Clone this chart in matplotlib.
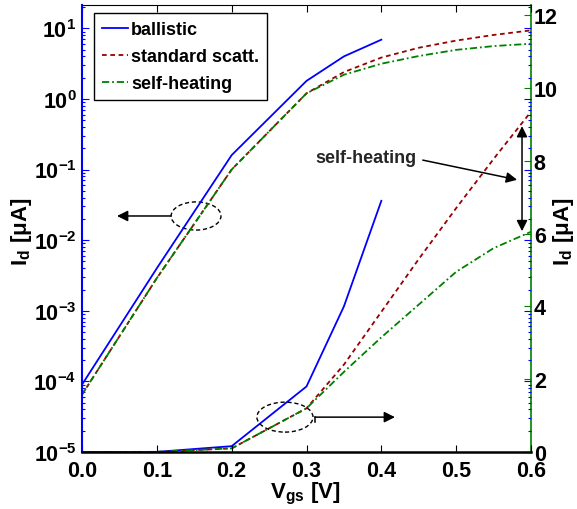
import math

import matplotlib
matplotlib.use("Agg")
import matplotlib.pyplot as plt
from matplotlib.patches import Ellipse
from matplotlib.ticker import FixedLocator, FuncFormatter, LogLocator, NullFormatter

plt.rcParams["font.family"] = ["Liberation Sans", "DejaVu Sans"]
plt.rcParams["font.weight"] = "bold"
plt.rcParams["mathtext.fontset"] = "custom"
plt.rcParams["mathtext.rm"] = "Liberation Sans"
plt.rcParams["mathtext.bf"] = "Liberation Sans:bold"
plt.rcParams["mathtext.it"] = "Liberation Sans:italic"

# drain current vs gate voltage [V, uA]
v_ball = [0.0, 0.1, 0.2, 0.3, 0.35, 0.4]
id_ball = [9e-5, 4e-3, 0.16, 1.8, 4.0, 6.9]

v_scatt = [0.0, 0.1, 0.2, 0.3, 0.35, 0.4, 0.45, 0.5, 0.55, 0.6]
id_scatt = [6.5e-5, 2.9e-3, 0.1, 1.2, 2.4, 3.85, 5.3, 6.7, 8.05, 9.35]
id_heat = [6.5e-5, 2.9e-3, 0.1, 1.2, 2.2, 3.15, 4.05, 4.95, 5.6, 6.05]

labels = ["ballistic", "standard scatt.", "self-heating"]
x_ticks = [0.0, 0.1, 0.2, 0.3, 0.4, 0.5, 0.6]
lin_ticks = [0, 2, 4, 6, 8, 10, 12]

c_ball = "#0000ff"
c_scatt = "#990000"
c_heat = "#008000"
ls_scatt = (0, (2.6, 2.0))
ls_heat = (0, (4.0, 1.6, 1.0, 1.6))

fig = plt.figure(figsize=(5.77, 5.10), dpi=100)
ax1 = fig.add_axes([82 / 577, 57 / 510, 449 / 577, 447 / 510])
ax2 = ax1.twinx()

# log scale (left axis)
h1, = ax1.plot(v_ball, id_ball, color=c_ball, lw=1.3, label=labels[0])
h2, = ax1.plot(v_scatt, id_scatt, color=c_scatt, lw=1.3, ls=ls_scatt, label=labels[1])
h3, = ax1.plot(v_scatt, id_heat, color=c_heat, lw=1.3, ls=ls_heat, label=labels[2])
ax1.set_yscale("log")
ax1.set_xlim(0, 0.6)
ax1.set_ylim(1e-5, 10 ** 1.33)

# linear scale (right axis)
ax2.plot(v_ball, id_ball, color=c_ball, lw=1.3)
ax2.plot(v_scatt, id_scatt, color=c_scatt, lw=1.3, ls=ls_scatt)
ax2.plot(v_scatt, id_heat, color=c_heat, lw=1.3, ls=ls_heat)
ax2.set_ylim(0, 12.28)

ax1.xaxis.set_major_locator(FixedLocator(x_ticks))
ax1.xaxis.set_major_formatter(FuncFormatter(lambda v, p: f"{v:.1f}"))
ax1.yaxis.set_major_locator(LogLocator(base=10, numticks=20))
ax1.yaxis.set_minor_locator(LogLocator(base=10, subs=range(2, 10), numticks=20))
ax1.yaxis.set_minor_formatter(NullFormatter())
ax1.yaxis.set_major_formatter(
    FuncFormatter(lambda v, p: r"$\mathbf{10^{%d}}$" % round(math.log10(v))))
ax2.yaxis.set_major_locator(FixedLocator(lin_ticks))

ax1.tick_params(axis="x", direction="in", top=True, length=5, width=0.8,
                labelsize=15.5, pad=6)
ax1.tick_params(axis="y", which="both", direction="in", left=True, right=True,
                color=c_ball, labelcolor="black", width=0.8, labelsize=15.5, pad=4)
ax1.tick_params(axis="y", which="major", length=5)
ax1.tick_params(axis="y", which="minor", length=2.5)
ax2.tick_params(axis="y", direction="in", color=c_heat, labelcolor="black",
                length=5, width=0.8, labelsize=15.5, pad=2)

for name in ("top", "bottom"):
    ax1.spines[name].set_color("black")
ax1.spines["bottom"].set_linewidth(1.8)
ax1.spines["left"].set_color(c_ball)
ax1.spines["left"].set_linewidth(1.5)
ax1.spines["right"].set_visible(False)
for name in ("left", "top", "bottom"):
    ax2.spines[name].set_visible(False)
ax2.spines["right"].set_color(c_heat)
ax2.spines["right"].set_linewidth(1.2)

# axis titles
id_label = r"$\mathbf{I_d\ [}\mathrm{\mu}\mathbf{A]}$"
fig.text(305 / 577, 1 - 494 / 510, r"$\mathbf{V_{gs}\ [V]}$", fontsize=16,
         ha="center", va="center")
fig.text(22 / 577, 1 - 232 / 510, id_label, fontsize=16, rotation=90,
         ha="center", va="center")
fig.text(564 / 577, 1 - 232 / 510, id_label, fontsize=16, rotation=90,
         ha="center", va="center")

leg = ax1.legend(handles=[h1, h2, h3], loc="upper left", bbox_to_anchor=(0.027, 0.982),
                 borderaxespad=0, fontsize=13, handlelength=1.45, handletextpad=0.15,
                 labelspacing=0.55, borderpad=0.45, fancybox=False, framealpha=1)
leg.get_frame().set_edgecolor("black")
leg.get_frame().set_linewidth(1.0)
ax1.set_zorder(ax2.get_zorder() + 1)
ax1.patch.set_visible(False)

# annotations (axes fraction coordinates)
ta = ax1.transAxes
arrow = dict(arrowstyle="-|>", color="black", lw=1.1, mutation_scale=16,
             shrinkA=0, shrinkB=0)
ax1.add_patch(Ellipse((0.254, 0.528), 0.111, 0.063, transform=ta, fill=False,
                      ls=(0, (3, 2)), lw=1.0, ec="black"))
ax1.annotate("", xy=(0.078, 0.528), xytext=(0.198, 0.528), xycoords=ta,
             textcoords=ta, arrowprops=arrow)
ax1.add_patch(Ellipse((0.452, 0.078), 0.125, 0.067, transform=ta, fill=False,
                      ls=(0, (3, 2)), lw=1.0, ec="black"))
ax1.plot([0.519, 0.519], [0.068, 0.078], color="black", lw=1.1, transform=ta)
ax1.annotate("", xy=(0.697, 0.078), xytext=(0.519, 0.078), xycoords=ta,
             textcoords=ta, arrowprops=arrow)
ax1.text(0.633, 0.658, "self-heating", transform=ta, fontsize=13, color="#262626",
         ha="center", va="center")
ax1.annotate("", xy=(0.969, 0.609), xytext=(0.759, 0.653), xycoords=ta,
             textcoords=ta, arrowprops=arrow)
ax1.annotate("", xy=(0.980, 0.494), xytext=(0.980, 0.729), xycoords=ta, textcoords=ta,
             arrowprops=dict(arrow, arrowstyle="<|-|>"))

fig.savefig("out.png", dpi=100)
